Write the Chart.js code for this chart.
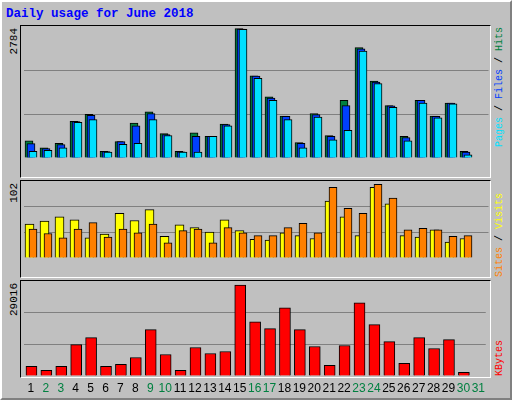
<!DOCTYPE html>
<html><head><meta charset="utf-8">
<script src="https://cdn.jsdelivr.net/npm/chart.js@4/dist/chart.umd.min.js"></script>
<style>
html,body{margin:0;padding:0;background:#c0c0c0;}
#wrap{position:absolute;left:0;top:0;width:508px;height:396px;background:#c0c0c0;border-top:2px solid #fff;border-left:2px solid #fff;border-right:2px solid #808080;border-bottom:2px solid #808080;box-sizing:content-box;overflow:hidden}
.panel{position:absolute;left:20px;width:469px;border-top:1px solid #000;border-left:1px solid #000;border-right:1px solid #fff;border-bottom:1px solid #fff;}
canvas{position:absolute;}
.t{position:absolute;font-family:"Liberation Mono","DejaVu Sans Mono",monospace;white-space:nowrap;writing-mode:vertical-rl;transform:rotate(180deg);}
#title{position:absolute;left:6px;top:7px;font:bold 12.5px "Liberation Mono",monospace;color:#0000ff;}
</style></head><body>
<div id="wrap"></div>
<div id="title">Daily usage for June 2018</div>
<div class="panel" style="top:25px;height:151px"></div>
<div class="panel" style="top:180px;height:96px"></div>
<div class="panel" style="top:280px;height:96px"></div>
<canvas id="c1"></canvas><canvas id="c2"></canvas><canvas id="c3"></canvas>
<div class="t" style="left:8px;top:28px;font-size:11px;color:#000">2784</div>
<div class="t" style="left:8px;top:183px;font-size:11px;color:#000">102</div>
<div class="t" style="left:8px;top:283px;font-size:11px;color:#000">29016</div>
<div class="t" style="left:494px;top:27px;font-size:10px;color:#000"><span style="color:#00e0ff">Pages</span> / <span style="color:#0040ff">Files</span> / <span style="color:#008040">Hits</span></div>
<div class="t" style="left:494px;top:193px;font-size:10px;color:#000"><span style="color:#ff8000">Sites</span> / <span style="color:#ffff00">Visits</span></div>
<div class="t" style="left:494px;top:340px;font-size:10px;color:#000"><span style="color:#ff0000">KBytes</span></div>
<script>
const days=["1","2","3","4","5","6","7","8","9","10","11","12","13","14","15","16","17","18","19","20","21","22","23","24","25","26","27","28","29","30","31"];
const weekend=["2","3","9","10","16","17","23","24","30","31"];
const hits=[372,220,315,788,938,145,353,750,995,523,145,542,466,731,2784,1770,1316,901,334,958,485,1241,2375,1657,1128,466,1241,901,1184,145,0];
const files=[309,202,290,781,920,139,353,693,958,504,135,466,466,718,2775,1760,1291,895,315,932,466,1128,2350,1632,1120,441,1241,895,1180,126,0];
const pages=[145,164,220,769,825,126,296,315,825,485,126,126,466,693,2766,1713,1241,825,220,882,391,598,2300,1600,1090,372,1184,863,1165,69,0];
const sites=[47,51,57,53,28,33,62,52,67,30,46,42,36,53,38,26,25,35,31,27,79,57,31,98,75,31,29,39,22,27,0];
const visits=[40,34,28,40,49,29,40,35,47,21,38,40,21,42,35,31,31,42,48,35,98,69,62,102,83,39,41,39,30,31,0];
const kbytes=[3060,1790,3060,10020,12240,3060,3690,5910,14770,6860,1790,9070,7170,7810,29016,17300,15090,21730,14770,9390,3380,9710,23320,16350,10970,4010,12240,8760,11610,1160,0];

const shift={id:'shift',afterDatasetsUpdate(ch){ch.data.datasets.forEach((d,i)=>{const m=ch.getDatasetMeta(i);m.data.forEach(e=>{e.x+=d.dx||0;});});}};
function place(id,top,h){const c=document.getElementById(id);c.style.left='21px';c.style.top=top+'px';c.style.width='469px';c.style.height=h+'px';return c;}
function mk(id,top,h,max,sets,showX){
  const c=place(id,top,h);
  return new Chart(c,{type:'bar',data:{labels:days,datasets:sets.map(s=>Object.assign({borderColor:'#000',borderWidth:1,grouped:false,borderSkipped:'bottom'},s))},
  options:{responsive:false,animation:false,devicePixelRatio:1,layout:{padding:{left:2.5,right:1.5,top:0,bottom:0}},
   plugins:{legend:{display:false},tooltip:{enabled:false}},
   scales:{x:{display:showX,afterFit:s=>{s.height=19;},grid:{display:false,drawTicks:false},border:{display:false},ticks:{padding:5,autoSkip:false,maxRotation:0,font:{family:'Liberation Sans',size:12},color:c=>weekend.includes(days[c.index])?'#008040':'#000'}},
    y:{min:0,max:max,afterFit:s=>{s.width=0;},afterBuildTicks:s=>{s.ticks=[0,max/3,2*max/3,max].map(v=>({value:v}));},ticks:{display:false},border:{display:false},grid:{drawTicks:false,color:c=>(c.index===0||c.index===3)?'rgba(0,0,0,0)':'#808080',lineWidth:1}}}},
  plugins:[shift]});
}
function sizeCanvas(id,w,h){const c=document.getElementById(id);c.width=w;c.height=h;}
sizeCanvas('c1',469,151);sizeCanvas('c2',469,96);sizeCanvas('c3',469,114);
mk('c1',26,151,2840,[
 {data:hits,backgroundColor:'#008040',barThickness:8,dx:-2,order:3},
 {data:files,backgroundColor:'#0040ff',barThickness:8,dx:0,order:2},
 {data:pages,backgroundColor:'#00e0ff',barThickness:8,dx:2,order:1}],false);
mk('c2',181,96,106.7,[
 {data:sites,backgroundColor:'#ffff00',barThickness:9,dx:-1.5,order:2},
 {data:visits,backgroundColor:'#ff8000',barThickness:8,dx:2,order:1}],false);
mk('c3',281,114,30280,[
 {data:kbytes,backgroundColor:'#ff0000',barThickness:11,dx:0.5,order:1}],true);
</script></body></html>
